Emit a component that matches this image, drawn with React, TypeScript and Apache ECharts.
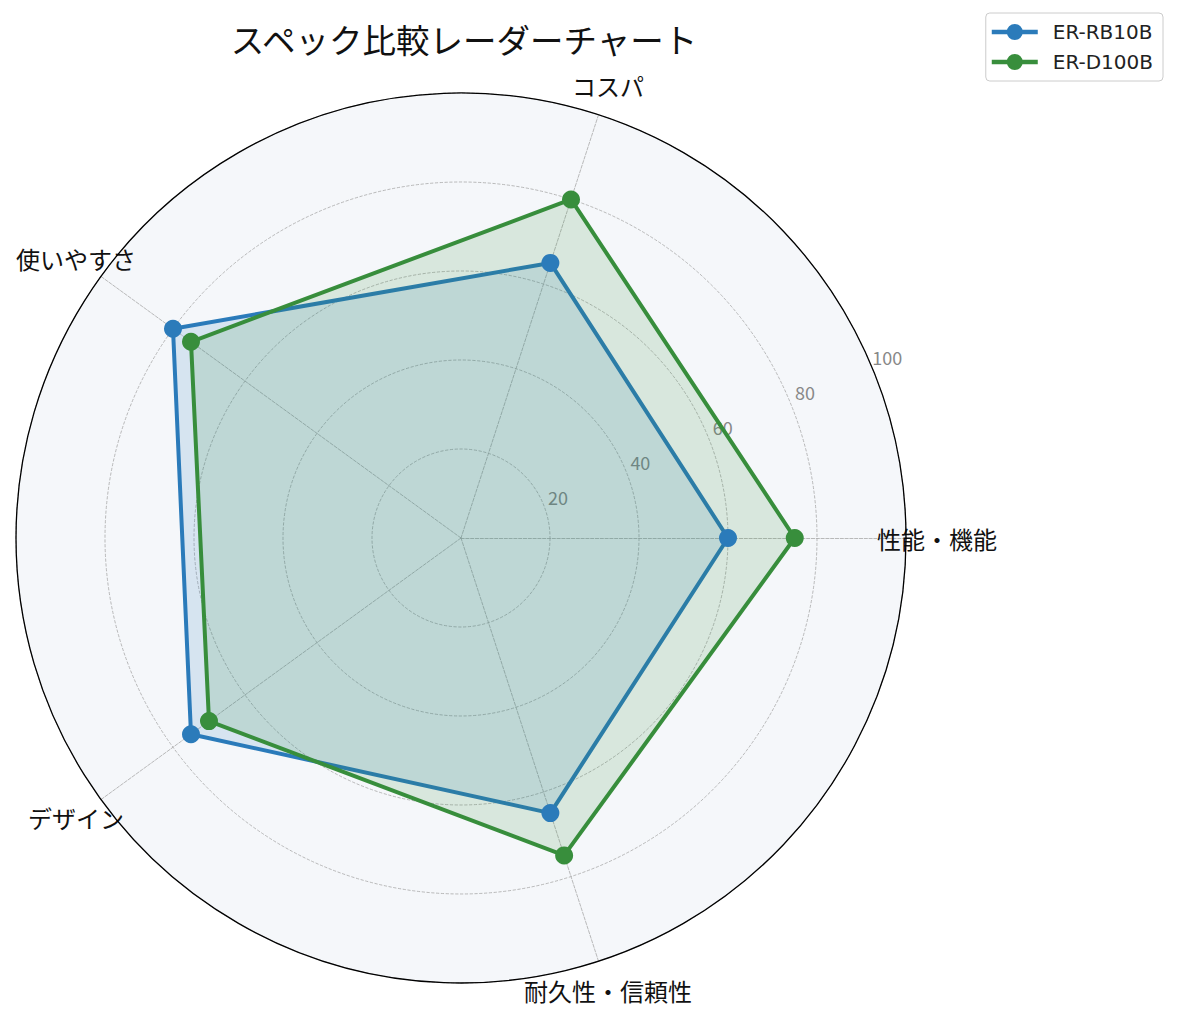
import React, { useEffect, useRef } from "react";
import * as echarts from "echarts";

const CATEGORIES = ["性能・機能", "コスパ", "使いやすさ", "デザイン", "耐久性・信頼性"];
const RB10B = [60, 65, 80, 75, 65];
const D100B = [75, 80, 75, 70, 75];
const RADIAL_TICKS = [20, 40, 60, 80, 100];

const BLUE = "#2b7bba";
const GREEN = "#388e3c";
const FONT = "'Noto Sans CJK JP', 'Noto Sans', sans-serif";

const CX = 461;
const CY = 538;

const App: React.FC = () => {
  const chartRef = useRef<HTMLDivElement | null>(null);

  useEffect(() => {
    if (!chartRef.current) return;
    const chart = echarts.init(chartRef.current, null, { renderer: "svg" });

    const option = {
      animation: false,
      backgroundColor: "#ffffff",
      title: {
        text: "スペック比較レーダーチャート",
        left: CX - 2,
        top: 17,
        textAlign: "center",
        textStyle: { fontFamily: FONT, fontSize: 33.5, fontWeight: "normal", color: "#111" },
      },
      legend: {
        data: ["ER-RB10B", "ER-D100B"],
        orient: "vertical",
        right: 16,
        top: 13,
        itemWidth: 46,
        itemHeight: 16,
        itemGap: 10,
        padding: [9, 10, 9, 6],
        borderColor: "#cccccc",
        borderWidth: 1,
        borderRadius: 4,
        backgroundColor: "#ffffff",
        icon: "path://M0,5.75h46v4.5h-46z M23,0a8,8 0 1,1 0,16a8,8 0 1,1 0,-16z",
        textStyle: {
          fontFamily: "'DejaVu Sans', sans-serif",
          fontSize: 20,
          lineHeight: 20,
          color: "#222",
          padding: [0, 0, 0, 10],
        },
      },
      radar: {
        center: [CX, CY],
        radius: 445,
        shape: "circle",
        startAngle: 0,
        splitNumber: 5,
        indicator: CATEGORIES.map((name) => ({ name, min: 0, max: 100 })),
        nameGap: 31,
        axisName: {
          color: "#111",
          fontFamily: FONT,
          fontSize: 24,
          align: "center",
          verticalAlign: "middle",
        },
        axisLine: { lineStyle: { color: "#a8a8a8", type: "dashed", width: 0.8 } },
        splitLine: { lineStyle: { color: "#a8a8a8", type: "dashed", width: 0.8 } },
        splitArea: { areaStyle: { color: ["#f5f7fa"] } },
        axisTick: { show: false },
        axisLabel: { show: false },
      },
      polar: [
        { center: [CX, CY], radius: 463 },
        { center: [CX, CY], radius: 445 },
      ],
      angleAxis: [
        {
          polarIndex: 0,
          type: "value",
          min: 0,
          max: 360,
          startAngle: 23,
          show: false,
        },
        {
          polarIndex: 1,
          type: "value",
          min: 0,
          max: 360,
          z: 3,
          axisLine: { lineStyle: { color: "#000", width: 1.3 } },
          axisTick: { show: false },
          axisLabel: { show: false },
          splitLine: { show: false },
        },
      ],
      radiusAxis: [
        {
          polarIndex: 0,
          type: "value",
          min: -3.6,
          max: 100,
          axisLine: { show: false },
          axisTick: { show: false },
          splitLine: { show: false },
          axisLabel: {
            customValues: RADIAL_TICKS,
            color: "#888",
            fontFamily: FONT,
            fontSize: 18,
            margin: 0,
            align: "center",
            verticalAlign: "middle",
          },
        },
        {
          polarIndex: 1,
          type: "value",
          min: 0,
          max: 100,
          show: false,
        },
      ],
      series: [
        {
          type: "radar",
          symbol: "circle",
          symbolSize: 18,
          z: 4,
          data: [
            {
              name: "ER-RB10B",
              value: RB10B,
              lineStyle: { color: BLUE, width: 4 },
              itemStyle: { color: BLUE },
              areaStyle: { color: BLUE, opacity: 0.15 },
            },
            {
              name: "ER-D100B",
              value: D100B,
              lineStyle: { color: GREEN, width: 4 },
              itemStyle: { color: GREEN },
              areaStyle: { color: GREEN, opacity: 0.15 },
            },
          ],
        },
      ],
    };

    chart.setOption(option);

    return () => {
      chart.dispose();
    };
  }, []);

  return (
    <div
      ref={chartRef}
      style={{
        position: "fixed",
        top: 0,
        left: 0,
        width: "1179px",
        height: "1017px",
        background: "#ffffff",
      }}
    />
  );
};

export default App;
